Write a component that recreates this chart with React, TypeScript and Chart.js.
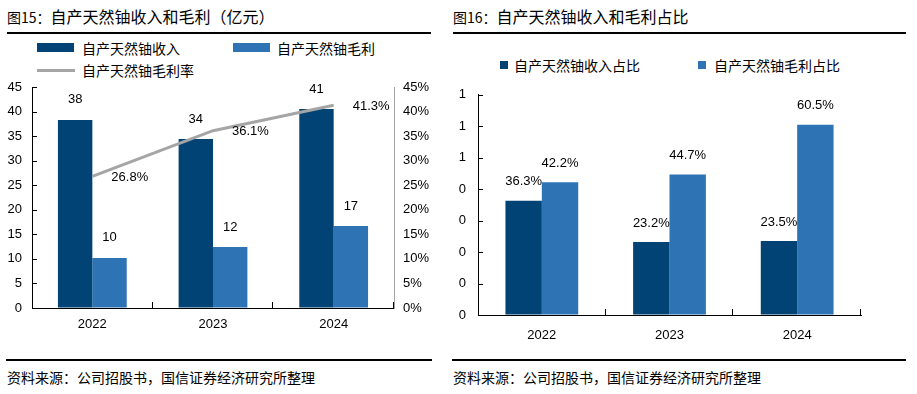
import React, { useEffect, useRef } from "react";
import { Chart, registerables } from "chart.js";

Chart.register(...registerables);

// ---- data ----
const years = ["2022", "2023", "2024"];
const revenue = [38.3, 34.4, 40.5]; // 自产天然铀收入 (亿元)
const grossProfit = [10.2, 12.4, 16.7]; // 自产天然铀毛利 (亿元)
const grossMargin = [26.8, 36.1, 41.3]; // 自产天然铀毛利率 (%)
const revenueShare = [0.363, 0.232, 0.235]; // 自产天然铀收入占比
const grossShare = [0.422, 0.447, 0.605]; // 自产天然铀毛利占比
const shareTickLabels = ["0", "0", "0", "0", "0", "1", "1", "1"];

const DARK = "#014375";
const LIGHT = "#2E74B5";
const GRAY = "#A5A5A5";
const FONT = '"Liberation Sans", Arial, sans-serif';
const CJK = '"Noto Sans CJK SC", "Noto Sans", sans-serif';

type LabelSpec = {
  dataset: number;
  dx: number;
  dy: number;
  align: CanvasTextAlign;
  format: (v: number) => string;
};

const makeLabelPlugin = (specs: LabelSpec[]) => ({
  id: "valueLabels",
  afterDatasetsDraw(chart: any) {
    const ctx = chart.ctx;
    ctx.save();
    ctx.font = `13px ${FONT}`;
    ctx.fillStyle = "#000";
    ctx.textBaseline = "middle";
    specs.forEach((s) => {
      const meta = chart.getDatasetMeta(s.dataset);
      meta.data.forEach((el: any, i: number) => {
        const v = chart.data.datasets[s.dataset].data[i] as number;
        ctx.textAlign = s.align;
        ctx.fillText(s.format(v), el.x + s.dx, el.y + s.dy);
      });
    });
    ctx.restore();
  },
});

const makeTickPlugin = (yId: string) => ({
  id: "innerTicks",
  afterDraw(chart: any) {
    const ctx = chart.ctx;
    const x = chart.scales.x;
    const y = chart.scales[yId];
    ctx.save();
    ctx.strokeStyle = "#000";
    ctx.lineWidth = 1;
    ctx.beginPath();
    y.ticks.forEach((t: any) => {
      const py = Math.round(y.getPixelForValue(t.value)) + 0.5;
      ctx.moveTo(y.right, py);
      ctx.lineTo(y.right + 5, py);
    });
    const n = x.ticks.length;
    const w = (x.right - x.left) / n;
    for (let i = 1; i <= n; i++) {
      const px = Math.round(x.left + i * w) - 0.5;
      ctx.moveTo(px, x.top);
      ctx.lineTo(px, x.top - 6);
    }
    ctx.stroke();
    ctx.restore();
  },
});

const gridOff = { display: true, drawOnChartArea: false, drawTicks: false };

export default function App() {
  const leftRef = useRef<HTMLCanvasElement>(null);
  const rightRef = useRef<HTMLCanvasElement>(null);

  useEffect(() => {
    Chart.defaults.font.family = FONT;
    Chart.defaults.font.size = 13;
    Chart.defaults.color = "#000";

    const c1 = new Chart(leftRef.current as HTMLCanvasElement, {
      type: "bar",
      data: {
        labels: years,
        datasets: [
          {
            type: "line",
            label: "自产天然铀毛利率",
            data: grossMargin,
            yAxisID: "y1",
            borderColor: GRAY,
            borderWidth: 3,
            pointRadius: 0,
            order: 0,
          } as any,
          {
            label: "自产天然铀收入",
            data: revenue,
            backgroundColor: DARK,
            yAxisID: "y",
            categoryPercentage: 0.57,
            barPercentage: 1,
            order: 1,
          },
          {
            label: "自产天然铀毛利",
            data: grossProfit,
            backgroundColor: LIGHT,
            yAxisID: "y",
            categoryPercentage: 0.57,
            barPercentage: 1,
            order: 1,
          },
        ],
      },
      options: {
        responsive: false,
        animation: false,
        layout: { padding: { top: 22, left: 0, right: 0, bottom: 0 } },
        plugins: { legend: { display: false }, tooltip: { enabled: false } },
        scales: {
          x: {
            grid: gridOff,
            border: { display: true, color: "#000", width: 1 },
            ticks: { padding: 9 },
            afterFit: (s: any) => {
              s.height = 32;
            },
          },
          y: {
            position: "left",
            min: 0,
            max: 45,
            ticks: { stepSize: 5, padding: 10 },
            grid: gridOff,
            border: { display: true, color: "#000", width: 1 },
            afterFit: (s: any) => {
              s.width = 32;
            },
          },
          y1: {
            position: "right",
            min: 0,
            max: 45,
            ticks: { stepSize: 5, padding: 9, callback: (v: any) => v + "%" },
            grid: gridOff,
            border: { display: true, color: GRAY, width: 1 },
            afterFit: (s: any) => {
              s.width = 46;
            },
          },
        },
      } as any,
      plugins: [
        makeLabelPlugin([
          { dataset: 1, dx: 0, dy: -20, align: "center", format: (v) => String(Math.round(v)) },
          { dataset: 2, dx: 0, dy: -20, align: "center", format: (v) => String(Math.round(v)) },
          { dataset: 0, dx: 19, dy: 1, align: "left", format: (v) => v.toFixed(1) + "%" },
        ]),
        makeTickPlugin("y"),
      ],
    });

    const c2 = new Chart(rightRef.current as HTMLCanvasElement, {
      type: "bar",
      data: {
        labels: years,
        datasets: [
          {
            label: "自产天然铀收入占比",
            data: revenueShare,
            backgroundColor: DARK,
            categoryPercentage: 0.57,
            barPercentage: 1,
          },
          {
            label: "自产天然铀毛利占比",
            data: grossShare,
            backgroundColor: LIGHT,
            categoryPercentage: 0.57,
            barPercentage: 1,
          },
        ],
      },
      options: {
        responsive: false,
        animation: false,
        layout: { padding: { top: 18, left: 0, right: 56, bottom: 0 } },
        plugins: { legend: { display: false }, tooltip: { enabled: false } },
        scales: {
          x: {
            grid: gridOff,
            border: { display: true, color: "#000", width: 1 },
            ticks: { padding: 13 },
            afterFit: (s: any) => {
              s.height = 25;
            },
          },
          y: {
            min: 0,
            max: 0.7,
            ticks: {
              stepSize: 0.1,
              padding: 12,
              callback: (_v: any, i: number) => shareTickLabels[i],
            },
            grid: gridOff,
            border: { display: true, color: "#000", width: 1 },
            afterFit: (s: any) => {
              s.width = 38;
            },
          },
        },
      } as any,
      plugins: [
        makeLabelPlugin([
          { dataset: 0, dx: 0, dy: -19, align: "center", format: (v) => (v * 100).toFixed(1) + "%" },
          { dataset: 1, dx: 0, dy: -19, align: "center", format: (v) => (v * 100).toFixed(1) + "%" },
        ]),
        makeTickPlugin("y"),
      ],
    });

    return () => {
      c1.destroy();
      c2.destroy();
    };
  }, []);

  const abs = (s: React.CSSProperties): React.CSSProperties => ({ position: "absolute", ...s });
  const text = (left: number, centerY: number, size: number, content: React.ReactNode) => (
    <div
      style={abs({
        left,
        top: centerY - 11,
        height: 22,
        lineHeight: "22px",
        fontSize: size,
        fontFamily: CJK,
        whiteSpace: "nowrap",
        color: "#000",
      })}
    >
      {content}
    </div>
  );

  return (
    <div
      style={{
        position: "fixed",
        left: 0,
        top: 0,
        width: 917,
        height: 394,
        background: "#fff",
        overflow: "hidden",
      }}
    >
      {/* titles */}
      {text(7, 16, 16, <><span style={{ fontSize: 14 }}>图15：</span>自产天然铀收入和毛利（亿元）</>)}
      {text(453, 16, 16, <><span style={{ fontSize: 14 }}>图16：</span>自产天然铀收入和毛利占比</>)}
      <div style={abs({ left: 7, top: 32, width: 424, height: 1.5, background: "#000" })} />
      <div style={abs({ left: 453, top: 32, width: 453, height: 1.5, background: "#000" })} />

      {/* left legend */}
      <div style={abs({ left: 37, top: 43, width: 37, height: 9, background: DARK })} />
      {text(82, 48, 14, "自产天然铀收入")}
      <div style={abs({ left: 233, top: 43, width: 37, height: 9, background: LIGHT })} />
      {text(277, 48, 14, "自产天然铀毛利")}
      <div style={abs({ left: 37, top: 69, width: 38, height: 3, background: GRAY })} />
      {text(82, 70, 14, "自产天然铀毛利率")}

      {/* right legend */}
      <div style={abs({ left: 500, top: 61, width: 8, height: 8, background: DARK })} />
      {text(514, 65, 14, "自产天然铀收入占比")}
      <div style={abs({ left: 698, top: 61, width: 8, height: 8, background: LIGHT })} />
      {text(714, 65, 14, "自产天然铀毛利占比")}

      {/* charts */}
      <canvas ref={leftRef} width={440} height={275} style={abs({ left: 0, top: 65, width: 440, height: 275 })} />
      <canvas ref={rightRef} width={477} height={265} style={abs({ left: 440, top: 75, width: 477, height: 265 })} />

      {/* source lines */}
      <div style={abs({ left: 6, top: 359, width: 426, height: 1.5, background: "#000" })} />
      <div style={abs({ left: 452, top: 359, width: 454, height: 1.5, background: "#000" })} />
      {text(7, 377, 14, "资料来源：公司招股书，国信证券经济研究所整理")}
      {text(453, 377, 14, "资料来源：公司招股书，国信证券经济研究所整理")}
    </div>
  );
}
